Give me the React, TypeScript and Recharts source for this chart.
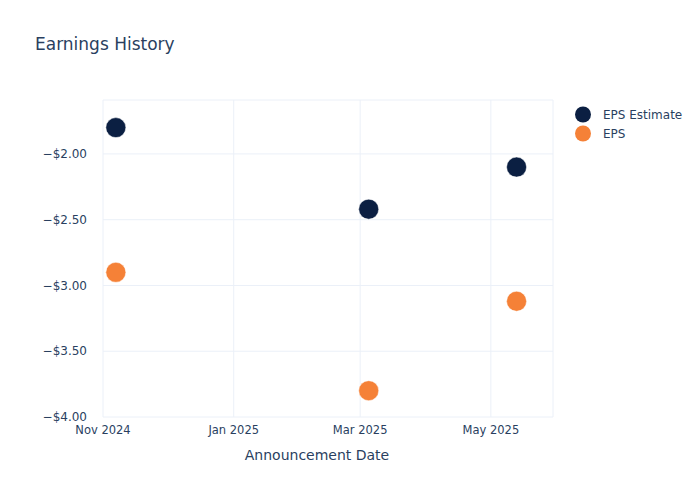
import {
  ScatterChart,
  Scatter,
  XAxis,
  YAxis,
  CartesianGrid,
} from "recharts";

const announceDates = ["2024-11-07", "2025-03-05", "2025-05-13"];
const epsEstimate = [-1.8, -2.42, -2.1];
const epsActual = [-2.9, -3.8, -3.12];

const xTickDates = ["2024-11-01", "2025-01-01", "2025-03-01", "2025-05-01"];
const xTickLabels = ["Nov 2024", "Jan 2025", "Mar 2025", "May 2025"];
const yTicks = [-4, -3.5, -3, -2.5, -2];

const toTs = (d: string) => Date.parse(d + "T00:00:00Z");

const estimateData = announceDates.map((d, i) => ({ date: toTs(d), value: epsEstimate[i] }));
const actualData = announceDates.map((d, i) => ({ date: toTs(d), value: epsActual[i] }));

const xTicks = xTickDates.map(toTs);
const xDomain = [toTs("2024-11-01"), toTs("2025-05-30")];

const NAVY = "#0b1f42";
const ORANGE = "#f58137";
const TEXT = "#2a3f5f";
const FONT = "'DejaVu Sans', sans-serif";

function formatMoney(v: number): string {
  const s = "$" + Math.abs(v).toFixed(2);
  return v < 0 ? "\u2212" + s : s;
}

function formatDate(ts: number): string {
  const i = xTicks.indexOf(ts);
  return i >= 0 ? xTickLabels[i] : "";
}

const dot = (color: string) => (props: any) => (
  <circle cx={props.cx} cy={props.cy} r={10} fill={color} stroke="#ffffff" strokeWidth={0.5} />
);

const legendItems = [
  { name: "EPS Estimate", color: NAVY },
  { name: "EPS", color: ORANGE },
];

export default function App() {
  return (
    <div style={{ position: "absolute", left: 0, top: 0, width: 700, height: 500, background: "#fff" }}>
      <div
        style={{
          position: "absolute",
          left: 35,
          top: 34,
          fontFamily: FONT,
          fontSize: 17,
          color: TEXT,
        }}
      >
        Earnings History
      </div>
      <div
        style={{
          position: "absolute",
          left: 574,
          top: 105,
          fontFamily: FONT,
          fontSize: 12,
          color: TEXT,
        }}
      >
        {legendItems.map((it) => (
          <div key={it.name} style={{ display: "flex", alignItems: "center", height: 19 }}>
            <svg width={20} height={19}>
              <circle cx={9} cy={9.5} r={8} fill={it.color} />
            </svg>
            <span style={{ marginLeft: 9 }}>{it.name}</span>
          </div>
        ))}
      </div>
      <ScatterChart width={700} height={500} margin={{ top: 100, right: 147, bottom: 53, left: 33 }}>
        <CartesianGrid stroke="#ebf0f8" strokeWidth={1} />
        <XAxis
          type="number"
          dataKey="date"
          domain={xDomain}
          ticks={xTicks}
          tickFormatter={formatDate}
          allowDataOverflow
          axisLine={false}
          tickLine={false}
          height={30}
          tick={{ fontSize: 11.5, fill: TEXT, fontFamily: FONT }}
          tickMargin={3}
          label={{
            value: "Announcement Date",
            position: "bottom",
            offset: 3,
            dx: -11,
            style: { fontSize: 14, fill: TEXT, fontFamily: FONT },
          }}
        />
        <YAxis
          type="number"
          dataKey="value"
          domain={[-4, -1.59]}
          ticks={yTicks}
          tickFormatter={formatMoney}
          allowDataOverflow
          axisLine={false}
          tickLine={false}
          width={70}
          tickMargin={10}
          tick={{ fontSize: 12, fill: TEXT, fontFamily: FONT }}
        />
        <Scatter
          name="EPS Estimate"
          data={estimateData}
          fill={NAVY}
          shape={dot(NAVY)}
          isAnimationActive={false}
        />
        <Scatter
          name="EPS"
          data={actualData}
          fill={ORANGE}
          shape={dot(ORANGE)}
          isAnimationActive={false}
        />
      </ScatterChart>
    </div>
  );
}
